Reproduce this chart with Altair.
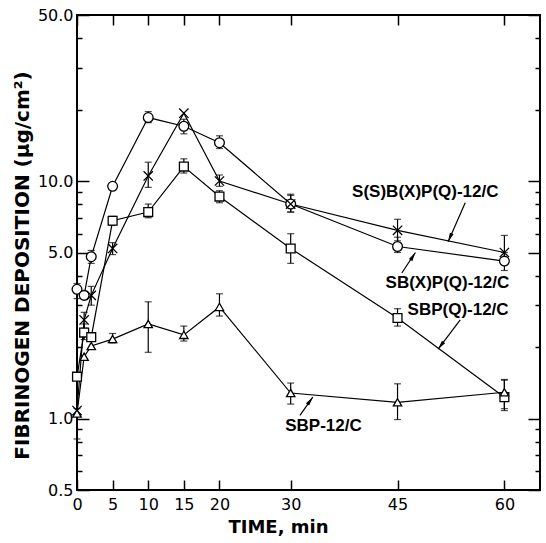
import altair as alt
import pandas as pd

# ---- data ----
times = [0, 1, 2, 5, 10, 15, 20, 30, 45, 60]
series_names = ["SB(X)P(Q)-12/C", "S(S)B(X)P(Q)-12/C", "SBP(Q)-12/C", "SBP-12/C"]

sbxpq = [3.5, 3.3, 4.8, 9.5, 18.5, 17.0, 14.5, 8.0, 5.3, 4.6]          # circles
ssbxpq = [1.08, 2.6, 3.3, 5.2, 10.5, 19.3, 10.0, 8.0, 6.2, 5.0]        # crosses
sbpq = [1.5, 2.3, 2.2, 6.8, 7.4, 11.5, 8.6, 5.2, 2.65, 1.23]           # squares
sbp = [1.05, 1.82, 2.02, 2.16, 2.5, 2.25, 2.95, 1.28, 1.17, 1.29]      # triangles

sbxpq_lo = [3.2, None, 4.5, None, 17.6, 15.8, 13.7, 7.4, 5.0, 4.2]
sbxpq_hi = [3.7, None, 5.1, None, 19.6, 18.2, 15.5, 8.7, 5.8, 5.0]
ssbxpq_lo = [None, 2.4, 3.0, 4.9, 9.4, None, 9.5, 7.4, 5.6, 4.5]
ssbxpq_hi = [None, 2.8, 3.6, 5.5, 12.0, None, 10.6, 8.8, 6.9, 5.9]
sbpq_lo = [None, 2.15, None, 6.5, 7.0, 10.8, 8.1, 4.5, 2.45, 1.1]
sbpq_hi = [None, 2.5, None, 7.1, 8.0, 12.4, 9.1, 6.0, 2.9, 1.45]
sbp_lo = [0.82, None, None, 2.08, 1.9, 2.12, 2.7, 1.15, 0.99, 1.08]
sbp_hi = [1.1, None, None, 2.28, 3.1, 2.45, 3.35, 1.41, 1.40, 1.46]

x_ticks = [0, 5, 10, 15, 20, 30, 45, 60]
y_major = [0.5, 1, 5, 10, 50]
y_minor = [0.6, 0.7, 0.8, 0.9, 2, 3, 4, 6, 7, 8, 9, 20, 30, 40]

# annotation labels (text, time, value) and arrows (start -> tip)
ann_text = ["S(S)B(X)P(Q)-12/C", "SB(X)P(Q)-12/C", "SBP(Q)-12/C", "SBP-12/C"]
ann_t = [48.9, 52.0, 53.5, 34.6]
ann_v = [9.0, 3.72, 2.86, 0.93]
arr_t0 = [54.5, 45.6, 53.8, 31.3]
arr_v0 = [8.1, 4.1, 2.6, 1.03]
arr_t1 = [52.1, 47.5, 50.7, 33.1]
arr_v1 = [5.55, 5.0, 1.96, 1.23]
arr_angle = [203.6, 31.8, 217.2, 35.8]

# ---- tables ----
vals = [sbxpq, ssbxpq, sbpq, sbp]
los = [sbxpq_lo, ssbxpq_lo, sbpq_lo, sbp_lo]
his = [sbxpq_hi, ssbxpq_hi, sbpq_hi, sbp_hi]
rows, erows = [], []
for name, v, lo, hi in zip(series_names, vals, los, his):
    for i, t in enumerate(times):
        rows.append({"series": name, "t": t, "v": v[i], "order": i})
        if lo[i] is not None:
            erows.append({"series": name, "t": t, "lo": lo[i], "hi": hi[i]})
df = pd.DataFrame(rows)
edf = pd.DataFrame(erows)
adf = pd.DataFrame({"text": ann_text, "t": ann_t, "v": ann_v,
                    "t0": arr_t0, "v0": arr_v0, "t1": arr_t1, "v1": arr_v1,
                    "angle": arr_angle})

xs = alt.Scale(domain=[0, 65], nice=False, zero=False)
ys = alt.Scale(type="log", domain=[0.5, 50], nice=False, zero=False)

FONT = "DejaVu Sans"
common = dict(domain=False, grid=False, tickColor="black", tickWidth=1.5,
              labelColor="black", titleColor="black")

ax_bottom = alt.Axis(orient="bottom", values=x_ticks, offset=-10, tickSize=10,
                     labelPadding=6, labelFontSize=16, labelFont=FONT,
                     labelOverlap=False, labelFlush=False,
                     title="TIME, min", titleFont=FONT, titleFontSize=18,
                     titleFontWeight="bold", titlePadding=6, titleX=201,
                     **common)
ax_top = alt.Axis(orient="top", values=x_ticks, offset=-10, tickSize=10,
                  labels=False, title=None, **common)
ax_left = alt.Axis(orient="left", values=y_major, format=".1f", offset=-12,
                   tickSize=12, labelPadding=4, labelFontSize=16, labelFont=FONT,
                   labelOverlap=False, labelFlush=False,
                   title="FIBRINOGEN DEPOSITION (μg/cm²)", titleFont=FONT,
                   titleFontSize=20, titleFontWeight="bold", titlePadding=5,
                   titleY=250, **common)
ax_left_minor = alt.Axis(orient="left", values=y_minor, offset=-5, tickSize=5,
                         labels=False, title=None, **common)
ax_right = alt.Axis(orient="right", values=y_major, offset=-12, tickSize=12,
                    labels=False, title=None, **common)
ax_right_minor = alt.Axis(orient="right", values=y_minor, offset=-5, tickSize=5,
                          labels=False, title=None, **common)

err_rule = alt.Chart(edf).mark_rule(color="black", strokeWidth=1.2).encode(
    x=alt.X("t:Q", scale=xs, axis=ax_bottom),
    y=alt.Y("lo:Q", scale=ys, axis=ax_left),
    y2="hi:Q",
)
err_lo = alt.Chart(edf).mark_tick(color="black", orient="horizontal", size=7,
                                  thickness=1.2).encode(
    x=alt.X("t:Q", scale=xs, axis=ax_top),
    y=alt.Y("lo:Q", scale=ys, axis=ax_left_minor),
)
err_hi = alt.Chart(edf).mark_tick(color="black", orient="horizontal", size=7,
                                  thickness=1.2).encode(
    x=alt.X("t:Q", scale=xs, axis=None),
    y=alt.Y("hi:Q", scale=ys, axis=ax_right),
)
lines = alt.Chart(df).mark_line(color="black", strokeWidth=1.2).encode(
    x=alt.X("t:Q", scale=xs, axis=None),
    y=alt.Y("v:Q", scale=ys, axis=ax_right_minor),
    detail="series:N",
    order="order:Q",
)
shape_scale = alt.Scale(domain=series_names,
                        range=["circle", "M-1,-1L1,1M-1,1L1,-1", "square", "triangle-up"])
size_scale = alt.Scale(domain=series_names, range=[95, 70, 90, 140])
points = alt.Chart(df).mark_point(filled=False, fill="white", fillOpacity=1,
                                  stroke="black", strokeWidth=1.3, opacity=1).encode(
    x=alt.X("t:Q", scale=xs, axis=None),
    y=alt.Y("v:Q", scale=ys, axis=None),
    shape=alt.Shape("series:N", scale=shape_scale, legend=None),
    size=alt.Size("series:N", scale=size_scale, legend=None),
)
labels = alt.Chart(adf).mark_text(font="Liberation Sans", fontSize=17,
                                  fontWeight="bold", color="black",
                                  align="center", baseline="middle").encode(
    x=alt.X("t:Q", scale=xs, axis=None),
    y=alt.Y("v:Q", scale=ys, axis=None),
    text="text:N",
)
arrow_line = alt.Chart(adf).mark_rule(color="black", strokeWidth=1.2).encode(
    x=alt.X("t0:Q", scale=xs, axis=None),
    y=alt.Y("v0:Q", scale=ys, axis=None),
    x2="t1:Q",
    y2="v1:Q",
)
arrow_head = alt.Chart(adf).mark_point(shape="M0,0L0.8,3.6L-0.8,3.6Z", size=25,
                                       filled=True, color="black", opacity=1).encode(
    x=alt.X("t1:Q", scale=xs, axis=None),
    y=alt.Y("v1:Q", scale=ys, axis=None),
    angle=alt.Angle("angle:Q", scale=None),
)

chart = alt.layer(err_rule, err_lo, err_hi, lines, points, arrow_line,
                  arrow_head, labels).resolve_axis(
    x="independent", y="independent"
).properties(
    width=463, height=475,
    autosize=alt.AutoSizeParams(type="none"),
    padding={"left": 77, "top": 15, "right": 6, "bottom": 53},
    background="white",
).configure_view(stroke="black", strokeWidth=2)

chart.save("out.html", embed_options={"renderer": "svg", "actions": False})
